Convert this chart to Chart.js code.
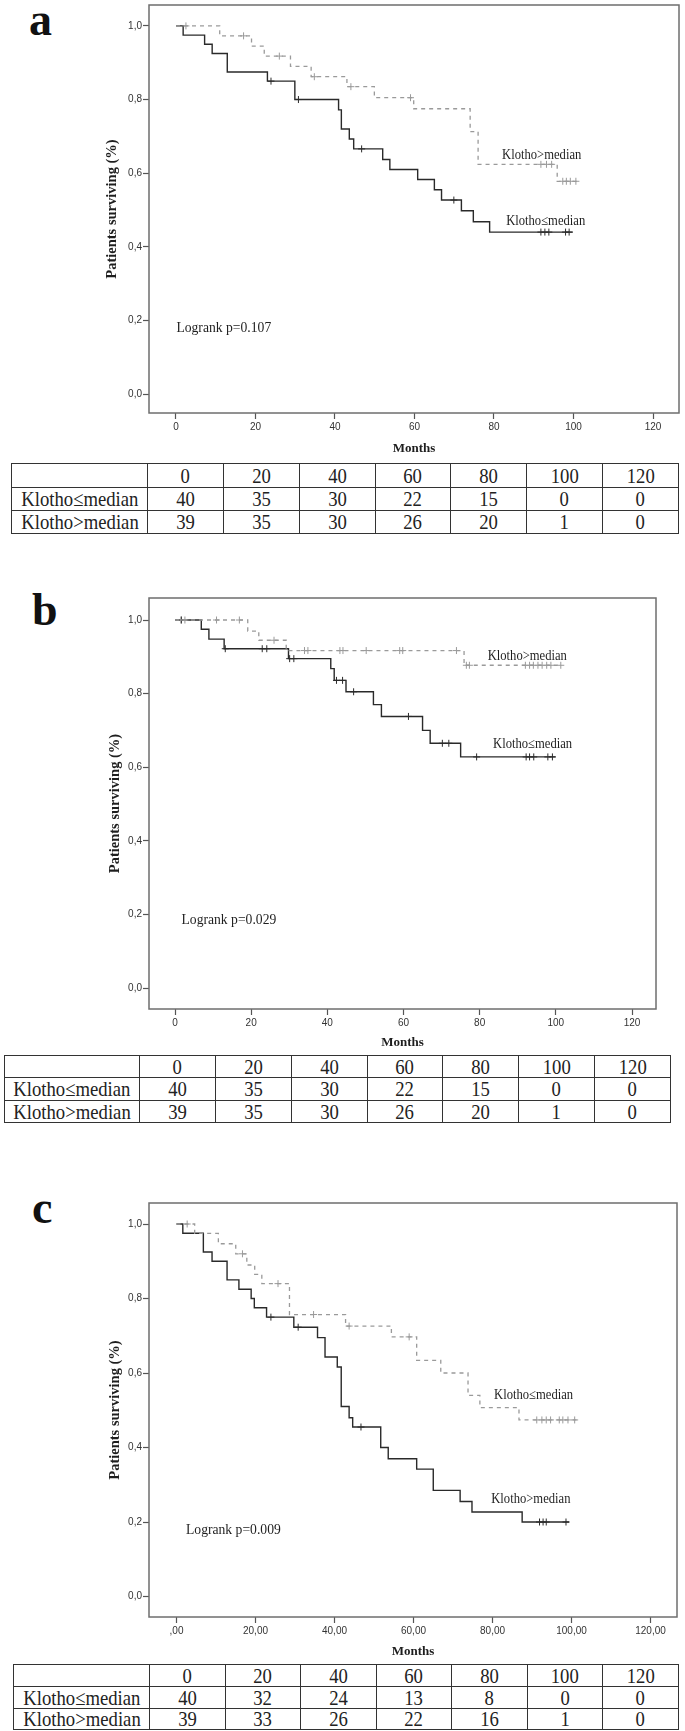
<!DOCTYPE html>
<html>
<head>
<meta charset="utf-8">
<script src="https://cdn.jsdelivr.net/npm/chart.js@4.4.1/dist/chart.umd.min.js"></script>
<style>
  body { margin: 0; background: #fff; width: 685px; height: 1731px; position: relative; overflow: hidden; }
  canvas { position: absolute; left: 0; }
  .letter { position: absolute; font: bold 46px "Liberation Serif", serif; color: #111; line-height: 46px; }
  table.risk { position: absolute; border-collapse: collapse; table-layout: fixed;
    font-family: "Liberation Serif", serif; font-size: 21px; color: #222; }
  table.risk td { border: 1px solid #333; text-align: center; vertical-align: middle;
    padding: 0; line-height: 18px; white-space: nowrap; overflow: hidden; }
  table.risk td span { display: inline-block; transform: scaleX(0.89); }
</style>
</head>
<body>
<div class="letter" style="left:29px; top:-3px;">a</div>
<div class="letter" style="left:32px; top:587px;">b</div>
<div class="letter" style="left:32px; top:1185px;">c</div>

<canvas id="chartA" width="685" height="462" style="top:0px"></canvas>
<canvas id="chartB" width="685" height="492" style="top:560px"></canvas>
<canvas id="chartC" width="685" height="494" style="top:1168px"></canvas>

<table class="risk" id="tableA"></table>
<table class="risk" id="tableB"></table>
<table class="risk" id="tableC"></table>

<script>
// axis ticks
const xTickValues = [0, 20, 40, 60, 80, 100, 120];
const xTickLabelsAB = ['0', '20', '40', '60', '80', '100', '120'];
const xTickLabelsC = [',00', '20,00', '40,00', '60,00', '80,00', '100,00', '120,00'];
const yTickValues = [0, 0.2, 0.4, 0.6, 0.8, 1.0];
const yTickLabels = ['0,0', '0,2', '0,4', '0,6', '0,8', '1,0'];

const groupLow = 'Klotho\u2264median';
const groupHigh = 'Klotho>median';

// panel a - Kaplan-Meier steps (time of drop, survival after drop) and censor times
const aLowTimes = [0, 1.8, 7.2, 9.1, 12.9, 23.0, 29.9, 40.9, 41.6, 43.6, 44.7, 52.0, 53.8, 60.8, 65.0, 66.8, 71.8, 74.8, 78.9, 99.8];
const aLowSurv  = [1, 0.975, 0.95, 0.925, 0.875, 0.85, 0.80, 0.772, 0.72, 0.693, 0.666, 0.637, 0.61, 0.583, 0.555, 0.527, 0.498, 0.468, 0.44, 0.44];
const aLowCens  = [23.9, 30.8, 46.7, 69.9, 91.8, 92.8, 93.8, 98.0, 98.9];
const aHighTimes = [0, 11, 19, 22.2, 28.8, 34, 43, 49.9, 59.8, 74, 76, 95.9, 101.6];
const aHighSurv  = [1, 0.973, 0.945, 0.918, 0.89, 0.862, 0.835, 0.805, 0.775, 0.713, 0.624, 0.578, 0.578];
const aHighCens  = [2.5, 17, 26, 34.8, 44, 59, 91.8, 93.2, 94.5, 97.3, 98.2, 99.2, 100.6];

// panel b
const bLowTimes = [0, 6.9, 8.9, 12.9, 29.8, 40.9, 41.8, 44.9, 52.1, 54.2, 65, 67, 75, 99.9];
const bLowSurv  = [1, 0.975, 0.948, 0.922, 0.895, 0.868, 0.836, 0.805, 0.77, 0.738, 0.70, 0.665, 0.628, 0.628];
const bLowCens  = [1.7, 13.2, 22.9, 24.1, 30.1, 31.2, 42.4, 44, 46.9, 61.3, 70.2, 71.9, 79.2, 92.2, 93.1, 94.2, 97.9, 99.1];
const bHighTimes = [0, 19.1, 22, 29.2, 75.9, 101.3];
const bHighSurv  = [1, 0.97, 0.945, 0.917, 0.877, 0.877];
const bHighCens  = [1.5, 2.6, 10.9, 16.9, 26, 34, 34.9, 43.3, 44.1, 50.2, 59, 59.8, 73.9, 76.5, 77.3, 92, 93.1, 94.1, 95.3, 96.4, 97.6, 98.7, 101.3];

// panel c (solid curve labelled Klotho>median, dashed labelled Klotho≤median)
const cSolidTimes = [0, 1.6, 6.8, 9, 12.8, 15.8, 18.9, 19.7, 22.8, 29.7, 35.7, 37.6, 40.7, 41.7, 43.7, 44.6, 51.7, 53.6, 60.8, 65, 71.8, 74.8, 87.5, 99.4];
const cSolidSurv  = [1, 0.975, 0.925, 0.90, 0.85, 0.825, 0.80, 0.775, 0.75, 0.723, 0.695, 0.643, 0.616, 0.51, 0.48, 0.455, 0.40, 0.37, 0.342, 0.285, 0.255, 0.227, 0.20, 0.20];
const cSolidCens  = [23.9, 30.8, 46.7, 91.9, 92.8, 93.6, 98.6];
const cDashTimes = [0, 4.6, 10.6, 15, 17.8, 19.8, 21.6, 28.6, 42.8, 54.4, 60.8, 66.9, 73.8, 76.8, 86.7, 101.3];
const cDashSurv  = [1, 0.975, 0.947, 0.92, 0.89, 0.865, 0.84, 0.757, 0.726, 0.697, 0.634, 0.60, 0.54, 0.507, 0.474, 0.474];
const cDashCens  = [2.7, 16.7, 25.7, 34.7, 43.7, 58.9, 91.2, 92.5, 93.6, 94.7, 96.9, 97.8, 99.1, 100.8];

// numbers at risk
const riskTimes = ['0', '20', '40', '60', '80', '100', '120'];
const riskA_low  = [40, 35, 30, 22, 15, 0, 0];
const riskA_high = [39, 35, 30, 26, 20, 1, 0];
const riskB_low  = [40, 35, 30, 22, 15, 0, 0];
const riskB_high = [39, 35, 30, 26, 20, 1, 0];
const riskC_low  = [40, 32, 24, 13, 8, 0, 0];
const riskC_high = [39, 33, 26, 22, 16, 1, 0];

const SOLID = '#2a2a2a';
const DASH = '#9a9a9a';

function stepPoints(times, surv) {
    return times.map((t, i) => ({ x: t, y: surv[i] }));
}

function censorPoints(times, surv, cens) {
    return cens.map(c => {
        let s = surv[0];
        for (let i = 0; i < times.length; i++) if (times[i] <= c) s = surv[i];
        return { x: c, y: s };
    });
}

const framePlugin = {
    id: 'frame',
    afterDraw(chart) {
        const { ctx, chartArea: a } = chart;
        ctx.save();
        ctx.strokeStyle = '#6e6e6e';
        ctx.lineWidth = 1.5;
        ctx.strokeRect(a.left, a.top, a.right - a.left, a.bottom - a.top);
        ctx.restore();
    }
};

// free text inside the plot (curve names, logrank p), placed in data units
function notesPlugin(notes) {
    return {
        id: 'notes',
        afterDatasetsDraw(chart) {
            const { ctx, scales: { x, y } } = chart;
            notes.forEach(n => {
                ctx.save();
                ctx.font = n.font;
                ctx.fillStyle = '#1e1e1e';
                ctx.textBaseline = 'middle';
                ctx.textAlign = n.align;
                ctx.translate(x.getPixelForValue(n.x), y.getPixelForValue(n.y));
                ctx.scale(n.squeeze, 1);
                ctx.fillText(n.text, 0, 0);
                ctx.restore();
            });
        }
    };
}

function zeroPad(s) {
    s.paddingTop = 0; s.paddingBottom = 0; s.paddingLeft = 0; s.paddingRight = 0;
}

function buildChart(p) {
    const canvas = document.getElementById(p.id);
    const H = canvas.height;
    const tickFont = { family: '"Liberation Sans", Arial, sans-serif', size: 10 };
    const tickGrid = { drawOnChartArea: false, drawTicks: true, tickLength: 6, tickColor: '#555', tickWidth: 1.2 };

    new Chart(canvas, {
        type: 'line',
        data: {
            datasets: [
                { data: stepPoints(p.dashT, p.dashS), stepped: 'before', borderColor: DASH, borderWidth: 1.3, borderDash: [4, 4], pointRadius: 0 },
                { data: censorPoints(p.dashT, p.dashS, p.dashC), showLine: false, pointStyle: 'cross', pointRadius: 3.5, borderColor: DASH, borderWidth: 1 },
                { data: stepPoints(p.solidT, p.solidS), stepped: 'before', borderColor: SOLID, borderWidth: 1.4, pointRadius: 0 },
                { data: censorPoints(p.solidT, p.solidS, p.solidC), showLine: false, pointStyle: 'cross', pointRadius: 3.5, borderColor: SOLID, borderWidth: 1 }
            ]
        },
        options: {
            responsive: false,
            animation: false,
            events: [],
            plugins: { legend: { display: false }, tooltip: { enabled: false } },
            layout: { padding: { top: p.box.top - p.top, right: 685 - p.box.right, left: 0, bottom: 0 } },
            scales: {
                x: {
                    type: 'linear', min: p.xMin, max: p.xMax,
                    afterFit: s => { s.height = p.top + H - p.box.bottom; zeroPad(s); },
                    afterBuildTicks: s => { s.ticks = xTickValues.map(v => ({ value: v })); },
                    ticks: { callback: (v, i) => p.xLabels[i], font: tickFont, color: '#333', padding: 2, maxRotation: 0, autoSkip: false },
                    grid: tickGrid,
                    border: { display: false },
                    title: { display: true, text: 'Months', color: '#1e1e1e',
                        font: { family: '"Liberation Serif", serif', size: 13, weight: 'bold' },
                        padding: { top: 0, bottom: p.xTitlePad } }
                },
                y: {
                    type: 'linear', min: p.yMin, max: p.yMax,
                    afterFit: s => { s.width = p.box.left; zeroPad(s); },
                    afterBuildTicks: s => { s.ticks = yTickValues.map(v => ({ value: v })); },
                    ticks: { callback: (v, i) => yTickLabels[i], font: tickFont, color: '#333', padding: 1 },
                    grid: tickGrid,
                    border: { display: false },
                    title: { display: true, text: 'Patients surviving (%)', color: '#1e1e1e',
                        font: { family: '"Liberation Serif", serif', size: 14.5, weight: 'bold' },
                        padding: { top: p.yTitlePad, bottom: 0 } }
                }
            }
        },
        plugins: [framePlugin, notesPlugin(p.notes)]
    });
}

function buildTable(id, low, high, g) {
    const t = document.getElementById(id);
    t.style.left = g.left + 'px';
    t.style.top = g.top + 'px';
    const other = (g.width - g.first) / riskTimes.length;
    t.style.width = g.width + 'px';
    let html = '<colgroup><col style="width:' + g.first + 'px">';
    riskTimes.forEach(() => { html += '<col style="width:' + other + 'px">'; });
    html += '</colgroup>';
    const rows = [[''].concat(riskTimes), [groupLow].concat(low), [groupHigh].concat(high)];
    rows.forEach((r, i) => {
        html += '<tr style="height:' + g.rows[i] + 'px">';
        r.forEach(c => { html += '<td><span>' + String(c).replace('>', '&gt;') + '</span></td>'; });
        html += '</tr>';
    });
    t.innerHTML = html;
}

const serif = '"Liberation Serif", serif';
const labelFont = '14px ' + serif;
const pFont = '15.5px ' + serif;

buildChart({
    id: 'chartA', top: 0,
    box: { left: 149, top: 3, right: 679, bottom: 413 },
    xMin: -6.79, xMax: 126.54, yMin: -0.0514, yMax: 1.0568,
    xLabels: xTickLabelsAB, xTitlePad: 6, yTitlePad: 104,
    solidT: aLowTimes, solidS: aLowSurv, solidC: aLowCens,
    dashT: aHighTimes, dashS: aHighSurv, dashC: aHighCens,
    notes: [
        { text: groupHigh, x: 92, y: 0.649, align: 'center', font: labelFont, squeeze: 0.9 },
        { text: groupLow, x: 93, y: 0.470, align: 'center', font: labelFont, squeeze: 0.9 },
        { text: 'Logrank p=0.107', x: 0.1, y: 0.181, align: 'left', font: pFont, squeeze: 0.88 }
    ]
});

buildChart({
    id: 'chartB', top: 560,
    box: { left: 149, top: 598, right: 656, bottom: 1009 },
    xMin: -6.83, xMax: 126.3, yMin: -0.057, yMax: 1.0598,
    xLabels: xTickLabelsAB, xTitlePad: 2, yTitlePad: 107,
    solidT: bLowTimes, solidS: bLowSurv, solidC: bLowCens,
    dashT: bHighTimes, dashS: bHighSurv, dashC: bHighCens,
    notes: [
        { text: groupHigh, x: 92.5, y: 0.902, align: 'center', font: labelFont, squeeze: 0.9 },
        { text: groupLow, x: 93.9, y: 0.662, align: 'center', font: labelFont, squeeze: 0.9 },
        { text: 'Logrank p=0.029', x: 1.7, y: 0.185, align: 'left', font: pFont, squeeze: 0.88 }
    ]
});

buildChart({
    id: 'chartC', top: 1168,
    box: { left: 149, top: 1203, right: 677, bottom: 1617 },
    xMin: -6.96, xMax: 126.7, yMin: -0.055, yMax: 1.0564,
    xLabels: xTickLabelsC, xTitlePad: 3, yTitlePad: 107,
    solidT: cSolidTimes, solidS: cSolidSurv, solidC: cSolidCens,
    dashT: cDashTimes, dashS: cDashSurv, dashC: cDashCens,
    notes: [
        { text: groupLow, x: 90.4, y: 0.541, align: 'center', font: labelFont, squeeze: 0.9 },
        { text: groupHigh, x: 89.7, y: 0.261, align: 'center', font: labelFont, squeeze: 0.9 },
        { text: 'Logrank p=0.009', x: 2.4, y: 0.179, align: 'left', font: pFont, squeeze: 0.88 }
    ]
});

buildTable('tableA', riskA_low, riskA_high, { left: 11, top: 463, width: 667, first: 136, rows: [24, 23, 23] });
buildTable('tableB', riskB_low, riskB_high, { left: 4, top: 1055, width: 666, first: 135, rows: [22, 23, 22] });
buildTable('tableC', riskC_low, riskC_high, { left: 13, top: 1664, width: 665, first: 136, rows: [22, 22, 21] });
</script>
</body>
</html>
